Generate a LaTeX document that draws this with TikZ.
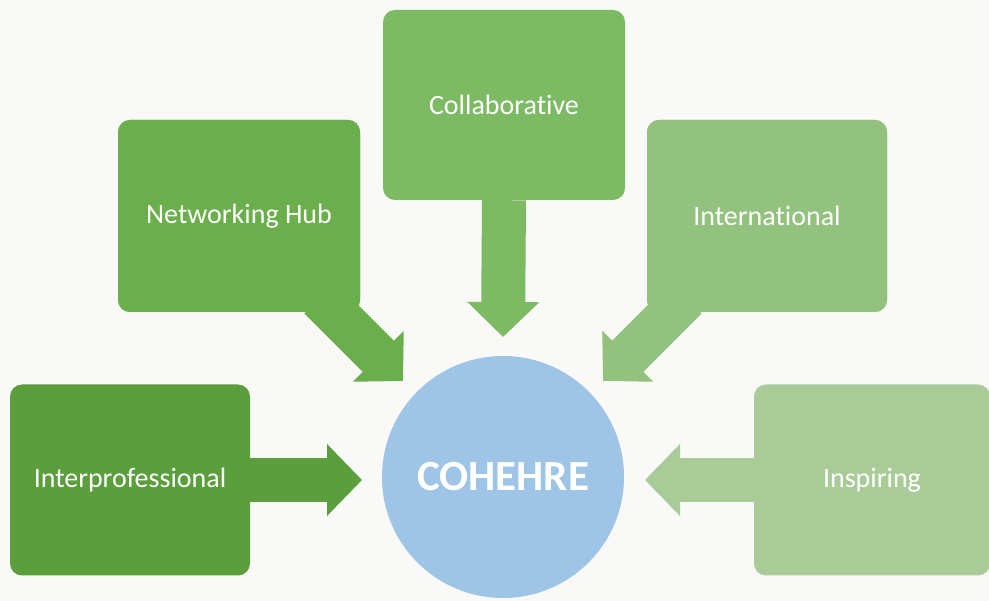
\documentclass[tikz,border=0pt]{standalone}
\usepackage{fontspec}
\setmainfont[Ligatures=NoCommon]{Carlito}
\usetikzlibrary{arrows.meta}
\definecolor{bg}{HTML}{F9F9F8}
\definecolor{gA}{HTML}{5B9F3C}
\definecolor{gB}{HTML}{6AAF4B}
\definecolor{gC}{HTML}{7CBA64}
\definecolor{gD}{HTML}{92C27D}
\definecolor{gE}{HTML}{A9CB98}
\definecolor{blu}{HTML}{9EC4E6}
\tikzset{
  box/.style={rectangle, rounded corners=12pt, inner sep=0pt, text=white, font=\fontsize{28}{32}\selectfont},
  bigarrow/.style={line width=44pt, -{Triangle[width=70pt,length=35pt]}},
}
\begin{document}
\begin{tikzpicture}[x=1pt,y=-1pt]
\fill[bg] (0,0) rectangle (989,601);
\useasboundingbox (0,0) rectangle (989,601);
% arrow end points
\coordinate (ipT) at (362,480);
\coordinate (nhS) at (320,298);
\coordinate (nhT) at (403,381);
\coordinate (coT) at (503,337);
\coordinate (inS) at (686,298);
\coordinate (inT) at (603,381);
\coordinate (isT) at (645,480);
% boxes
\node[box, fill=gA, minimum width=240pt, minimum height=191pt] (ip) at (130,480) {Interprofessional};
\node[box, fill=gB, minimum width=242pt, minimum height=192pt] (nh) at (239,216) {Networking Hub};
\node[box, fill=gC, minimum width=242pt, minimum height=190pt] (co) at (504,105) {Collaborative};
\node[box, fill=gD, minimum width=240pt, minimum height=192pt] (in) at (767,216) {International};
\node[box, fill=gE, minimum width=236pt, minimum height=191pt] (is) at (872,480) {Inspiring};
\node[circle, fill=blu, minimum size=242pt, inner sep=0pt, text=white, font=\fontsize{43}{48}\selectfont\bfseries] (ch) at (503,477) {COHEHRE};
% arrows
\draw[bigarrow, draw=gA, fill=gA] (ip.east) -- (ipT);
\draw[bigarrow, draw=gC, fill=gC] (co.south) -- (coT);
\draw[bigarrow, draw=gE, fill=gE] (is.west) -- (isT);
\draw[bigarrow, draw=gB, fill=gB] (nhS) -- (nhT);
\draw[bigarrow, draw=gD, fill=gD] (inS) -- (inT);
% redraw diagonal-source boxes on top
\node[box, fill=gB, minimum width=242pt, minimum height=192pt] at (nh.center) {Networking Hub};
\node[box, fill=gD, minimum width=240pt, minimum height=192pt] at (in.center) {International};
\end{tikzpicture}
\end{document}
